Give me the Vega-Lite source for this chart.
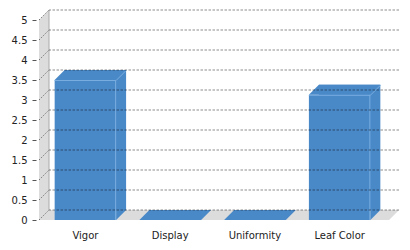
{
  "$schema": "https://vega.github.io/schema/vega-lite/v6.json",
  "width": 350,
  "height": 200,
  "autosize": {"type": "none"},
  "padding": {"left": 49, "top": 10, "right": 11, "bottom": 40},
  "background": "#ffffff",
  "config": {
    "view": {"stroke": null},
    "font": "DejaVu Sans",
    "axis": {"labelFont": "DejaVu Sans", "labelFontSize": 10, "labelColor": "#222222"},
    "axisY": {"orient": "left", "offset": 13, "tickSize": 4, "tickOffset": 10, "labelPadding": 5, "domain": false, "grid": false, "tickColor": "#555555", "format": "~g", "title": null, "labelOverlap": false, "labelFlush": false},
    "axisX": {"orient": "bottom", "ticks": false, "domain": false, "grid": false, "labelAngle": 0, "labelOffset": -10, "labelPadding": 20, "labelBaseline": "top", "title": null}
  },
  "datasets": {
    "bars": [
      {"cat": "Vigor", "value": 3.5},
      {"cat": "Display", "value": 0},
      {"cat": "Uniformity", "value": 0},
      {"cat": "Leaf Color", "value": 3.13}
    ],
    "ticks": [
      {"v": 0}, {"v": 0.5}, {"v": 1}, {"v": 1.5}, {"v": 2}, {"v": 2.5},
      {"v": 3}, {"v": 3.5}, {"v": 4}, {"v": 4.5}, {"v": 5}
    ],
    "origin": [{"v": 0}]
  },
  "layer": [
    {
      "data": {"name": "origin"},
      "mark": {"type": "point", "shape": "M-10,10L-10,-190L0,-200L0,0L350,0L340,10Z", "size": 4, "filled": true, "fill": "#dcdcdc", "strokeWidth": 0, "opacity": 1},
      "encoding": {
        "x": {"value": 0},
        "y": {"field": "v", "type": "quantitative", "title": null, "axis": {"values": [0, 0.5, 1, 1.5, 2, 2.5, 3, 3.5, 4, 4.5, 5], "tickCount": 11, "labelOverlap": false}, "scale": {"domain": [0, 5], "nice": false, "zero": true}}
      }
    },
    {
      "data": {"name": "origin"},
      "mark": {"type": "rule", "color": "#aaaaaa", "strokeWidth": 1},
      "encoding": {
        "x": {"value": 0},
        "y": {"datum": 0, "type": "quantitative", "title": null, "axis": {"values": [0, 0.5, 1, 1.5, 2, 2.5, 3, 3.5, 4, 4.5, 5], "tickCount": 11, "labelOverlap": false}},
        "y2": {"datum": 5}
      }
    },
    {
      "data": {"name": "ticks"},
      "mark": {"type": "point", "shape": "M-10,10L0,0", "size": 4, "filled": false, "stroke": "#777777", "strokeWidth": 1, "strokeDash": [1.5, 1.5], "opacity": 1},
      "encoding": {
        "x": {"value": 0},
        "y": {"field": "v", "type": "quantitative", "title": null, "axis": {"values": [0, 0.5, 1, 1.5, 2, 2.5, 3, 3.5, 4, 4.5, 5], "tickCount": 11, "labelOverlap": false}}
      }
    },
    {
      "data": {"name": "bars"},
      "mark": {"type": "bar", "color": "#4a89c8"},
      "encoding": {
        "x": {
          "field": "cat", "type": "nominal", "sort": null, "title": null,
          "scale": {"domain": ["Vigor", "Display", "Uniformity", "Leaf Color"], "range": [4, 343], "paddingInner": 0.275, "paddingOuter": 0.1375}
        },
        "y": {"field": "value", "type": "quantitative", "title": null, "axis": {"values": [0, 0.5, 1, 1.5, 2, 2.5, 3, 3.5, 4, 4.5, 5], "tickCount": 11, "labelOverlap": false}}
      }
    },
    {
      "data": {"name": "bars"},
      "mark": {"type": "bar", "color": "#4a89c8", "xOffset": -10, "yOffset": 10, "y2Offset": 10},
      "encoding": {
        "x": {"field": "cat", "type": "nominal", "sort": null, "title": null},
        "y": {"field": "value", "type": "quantitative", "title": null, "axis": {"values": [0, 0.5, 1, 1.5, 2, 2.5, 3, 3.5, 4, 4.5, 5], "tickCount": 11, "labelOverlap": false}}
      }
    },
    {
      "data": {"name": "bars"},
      "mark": {"type": "point", "shape": "M-30.72,0L30.72,0L20.72,10L-40.72,10Z", "size": 4, "filled": true, "fill": "#4a89c8", "strokeWidth": 0, "opacity": 1},
      "encoding": {
        "x": {"field": "cat", "type": "nominal", "sort": null, "title": null},
        "y": {"field": "value", "type": "quantitative", "title": null, "axis": {"values": [0, 0.5, 1, 1.5, 2, 2.5, 3, 3.5, 4, 4.5, 5], "tickCount": 11, "labelOverlap": false}}
      }
    },
    {
      "data": {"name": "bars"},
      "mark": {"type": "point", "shape": "M20.72,10L30.72,0L20.72,0Z", "size": 4, "filled": true, "fill": "#4a89c8", "strokeWidth": 0, "opacity": 1},
      "encoding": {
        "x": {"field": "cat", "type": "nominal", "sort": null, "title": null},
        "y": {"datum": 0, "type": "quantitative", "title": null, "axis": {"values": [0, 0.5, 1, 1.5, 2, 2.5, 3, 3.5, 4, 4.5, 5], "tickCount": 11, "labelOverlap": false}}
      }
    },
    {
      "data": {"name": "bars"},
      "transform": [{"filter": "datum.value > 0"}],
      "mark": {"type": "point", "shape": "M-40.72,10.5L20.72,10.5L30.72,0.5", "size": 4, "filled": false, "stroke": "#79ade0", "strokeWidth": 1, "opacity": 1},
      "encoding": {
        "x": {"field": "cat", "type": "nominal", "sort": null, "title": null},
        "y": {"field": "value", "type": "quantitative", "title": null, "axis": {"values": [0, 0.5, 1, 1.5, 2, 2.5, 3, 3.5, 4, 4.5, 5], "tickCount": 11, "labelOverlap": false}}
      }
    },
    {
      "data": {"name": "bars"},
      "transform": [{"filter": "datum.value > 0"}],
      "mark": {"type": "rule", "color": "#79ade0", "strokeWidth": 1, "xOffset": -10.5, "yOffset": 10, "y2Offset": 10},
      "encoding": {
        "x": {"field": "cat", "type": "nominal", "sort": null, "title": null, "bandPosition": 1},
        "y": {"field": "value", "type": "quantitative", "title": null, "axis": {"values": [0, 0.5, 1, 1.5, 2, 2.5, 3, 3.5, 4, 4.5, 5], "tickCount": 11, "labelOverlap": false}},
        "y2": {"datum": 0}
      }
    },
    {
      "data": {"name": "ticks"},
      "mark": {"type": "rule", "color": "#000000", "strokeOpacity": 0.45, "strokeWidth": 1, "strokeDash": [2.5, 1.5]},
      "encoding": {
        "y": {"field": "v", "type": "quantitative", "title": null, "axis": {"values": [0, 0.5, 1, 1.5, 2, 2.5, 3, 3.5, 4, 4.5, 5], "tickCount": 11, "labelOverlap": false}}
      }
    }
  ]
}
